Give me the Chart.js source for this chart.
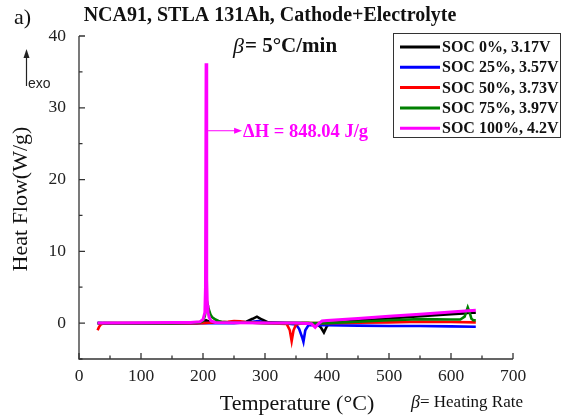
<!DOCTYPE html>
<html>
<head>
<meta charset="utf-8">
<script src="https://cdn.jsdelivr.net/npm/chart.js@4.4.0/dist/chart.umd.min.js"></script>
<style>
html,body{margin:0;padding:0;background:#fff;}
#wrap{width:569px;height:417px;position:relative;}
</style>
</head>
<body>
<div id="wrap"><canvas id="c" width="569" height="417"></canvas></div>
<script>
// ---- Data ----
const seriesLabels = ['SOC 0%, 3.17V','SOC 25%, 3.57V','SOC 50%, 3.73V','SOC 75%, 3.97V','SOC 100%, 4.2V'];
const seriesColors = ['#000000','#0000ff','#ff0000','#008000','#ff00ff'];

const soc0T  = [30,50,100,150,190,200,205,210,220,250,270,280,287,295,305,330,370,385,390,395,400,405,420,450,500,550,600,620,630,640];
const soc0HF = [0,-0.05,-0.05,0,0,0.1,0.4,0.2,0.1,0.05,0.2,0.6,0.9,0.5,0.1,0.05,0,-0.2,-0.6,-1.3,-0.4,0,0.1,0.35,0.65,0.95,1.25,1.35,1.45,1.45];

const soc25T  = [30,100,200,250,280,290,300,330,350,355,360,362,365,370,380,400,450,500,550,600,640];
const soc25HF = [0,-0.05,0,0,0.2,0.3,0.05,0,-0.2,-0.8,-2.0,-2.6,-1.0,-0.3,-0.3,-0.3,-0.35,-0.4,-0.4,-0.45,-0.5];

const soc50T  = [30,32,35,40,100,200,210,240,250,260,270,300,335,340,343,346,350,360,400,450,500,550,600,640];
const soc50HF = [-1.0,-0.6,-0.2,0,0,0,0.05,0.2,0.3,0.25,0.1,0,-0.1,-1.0,-2.5,-1.0,-0.2,0,0,0.05,0.1,0.2,0.15,0.1];

const soc75T  = [30,100,150,195,200,203,205,207,209,212,215,220,225,230,240,260,280,300,350,380,400,450,500,550,600,615,622,627,630,633,636,640];
const soc75HF = [0,0,0,0.1,0.3,1.0,2.2,2.8,2.0,1.2,0.8,0.5,0.3,0.2,0.1,0.05,0.05,0,0,0,0,0.2,0.4,0.55,0.5,0.5,0.9,2.2,1.5,0.6,0.4,0.4];

const soc100T  = [30,100,150,180,195,200,203,204,205,206,207,208,210,213,220,250,300,350,375,381,386,392,400,450,500,550,600,640];
const soc100HF = [0,0.05,0.1,0.1,0.2,0.5,1.5,5,36.2,6,2.5,1.5,0.8,0.3,0.1,0.05,0,0,-0.1,-0.6,-0.1,0.3,0.35,0.65,0.95,1.25,1.55,1.8];

const xTicks = [0,100,200,300,400,500,600,700];
const yTicks = [0,10,20,30,40];
const peakT = 205;          // temperature of the SOC 100% spike
const annotY = 26.8;        // heat-flow level of the ΔH annotation
const annotText = 'ΔH = 848.04 J/g';

// ---- Build datasets ----
const allT  = [soc0T, soc25T, soc50T, soc75T, soc100T];
const allHF = [soc0HF, soc25HF, soc50HF, soc75HF, soc100HF];
const drawOrder = [4,3,2,1,0];
const datasets = seriesLabels.map((lab,i)=>({
  label: lab,
  data: allT[i].map((t,j)=>({x:t,y:allHF[i][j]})),
  borderColor: seriesColors[i],
  backgroundColor: seriesColors[i],
  borderWidth: i===4 ? 3 : 2.6,
  pointRadius: 0,
  tension: 0,
  fill: false,
  order: drawOrder[i]
}));

const SERIF = '"Liberation Serif","Times New Roman",serif';
const SANS = '"Liberation Sans",Arial,sans-serif';

const decor = {
  id: 'decor',
  afterDraw(chart){
    const ctx = chart.ctx;
    const xs = chart.scales.x, ys = chart.scales.y;
    const ca = chart.chartArea;
    ctx.save();
    // axes
    ctx.strokeStyle = '#333';
    ctx.lineWidth = 1.3;
    ctx.beginPath();
    ctx.moveTo(ca.left, ys.getPixelForValue(40));
    ctx.lineTo(ca.left, ca.bottom);
    ctx.lineTo(ca.right, ca.bottom);
    ctx.stroke();
    // inward ticks
    ctx.beginPath();
    for (let v=0; v<=700; v+=50){
      const px = xs.getPixelForValue(v);
      const len = (v%100===0)?6:3.5;
      ctx.moveTo(px, ca.bottom); ctx.lineTo(px, ca.bottom-len);
    }
    for (let v=-5; v<=40; v+=5){
      const py = ys.getPixelForValue(v);
      const len = (v%10===0)?6:3.5;
      ctx.moveTo(ca.left, py); ctx.lineTo(ca.left+len, py);
    }
    ctx.stroke();

    // title
    ctx.fillStyle = '#111';
    ctx.textBaseline = 'middle';
    ctx.textAlign = 'left';
    ctx.font = '22px ' + SERIF;
    ctx.fillText('a)', 14, 18);
    ctx.font = 'bold 20px ' + SERIF;
    ctx.textAlign = 'center';
    ctx.fillText('NCA91, STLA 131Ah, Cathode+Electrolyte', 270, 16);

    // beta = 5°C/min
    ctx.textAlign = 'left';
    ctx.font = 'italic 22px ' + SERIF;
    ctx.fillText('β', 233, 47);
    let w = ctx.measureText('β').width;
    ctx.font = 'bold 21px ' + SERIF;
    ctx.fillText('= 5°C/min', 233 + w + 1, 47);

    // exo arrow
    ctx.strokeStyle = '#222'; ctx.fillStyle = '#222';
    ctx.lineWidth = 1.2;
    ctx.beginPath(); ctx.moveTo(26.5, 86); ctx.lineTo(26.5, 56); ctx.stroke();
    ctx.beginPath(); ctx.moveTo(26.5, 49); ctx.lineTo(23.5, 58); ctx.lineTo(29.5, 58); ctx.closePath(); ctx.fill();
    ctx.font = '14px ' + SANS;
    ctx.fillText('exo', 28, 84);

    // axis titles
    ctx.fillStyle = '#111';
    ctx.font = '22px ' + SERIF;
    ctx.textAlign = 'center';
    ctx.fillText('Temperature (°C)', 297, 404);
    ctx.save();
    ctx.translate(21, 199);
    ctx.rotate(-Math.PI/2);
    ctx.fillText('Heat Flow(W/g)', 0, 0);
    ctx.restore();

    // beta = Heating Rate
    ctx.textAlign = 'left';
    ctx.font = 'italic 18px ' + SERIF;
    ctx.fillText('β', 411, 403);
    w = ctx.measureText('β').width;
    ctx.font = '17px ' + SERIF;
    ctx.fillText('= Heating Rate', 411 + w, 403);

    // ΔH annotation
    const ax0 = xs.getPixelForValue(peakT) + 2;
    const ay = ys.getPixelForValue(annotY);
    ctx.strokeStyle = '#ff00ff'; ctx.fillStyle = '#ff00ff';
    ctx.lineWidth = 1;
    ctx.beginPath(); ctx.moveTo(ax0, ay); ctx.lineTo(ax0+28, ay); ctx.stroke();
    ctx.beginPath(); ctx.moveTo(ax0+34, ay); ctx.lineTo(ax0+26, ay-3); ctx.lineTo(ax0+26, ay+3); ctx.closePath(); ctx.fill();
    ctx.font = 'bold 18.5px ' + SERIF;
    ctx.fillText(annotText, ax0+35, ay+1);

    // legend
    const lx = 393, ly = 33, lw = 167, lh = 104;
    ctx.strokeStyle = '#333'; ctx.lineWidth = 1;
    ctx.strokeRect(lx+0.5, ly+0.5, lw, lh);
    ctx.font = 'bold 16px ' + SERIF;
    chart.data.datasets.forEach((ds,i)=>{
      const ry = 47 + i*20.3;
      ctx.strokeStyle = ds.borderColor; ctx.lineWidth = 3;
      ctx.beginPath(); ctx.moveTo(400, ry); ctx.lineTo(440, ry); ctx.stroke();
      ctx.fillStyle = '#111';
      ctx.fillText(ds.label, 442, ry+1);
    });
    ctx.restore();
  }
};

new Chart(document.getElementById('c'), {
  type: 'line',
  data: { datasets },
  options: {
    responsive: false,
    animation: false,
    devicePixelRatio: 1,
    layout: { padding: { left: 0, right: 56, top: 36, bottom: 0 } },
    plugins: { legend: { display: false }, tooltip: { enabled: false }, title: { display: false } },
    scales: {
      x: {
        type: 'linear', min: 0, max: 700,
        grid: { display: false, drawTicks: false },
        border: { display: false },
        afterBuildTicks: s => { s.ticks = xTicks.map(v=>({value:v})); },
        afterFit: s => { s.height = 58; },
        ticks: { color: '#222', padding: 7, maxRotation: 0, font: { family: SERIF, size: 17.5 } }
      },
      y: {
        type: 'linear', min: -5, max: 40,
        grid: { display: false, drawTicks: false },
        border: { display: false },
        afterBuildTicks: s => { s.ticks = yTicks.map(v=>({value:v})); },
        afterFit: s => { s.width = 79; },
        ticks: { color: '#222', padding: 13, font: { family: SERIF, size: 17.5 } }
      }
    }
  },
  plugins: [decor]
});
</script>
</body>
</html>
